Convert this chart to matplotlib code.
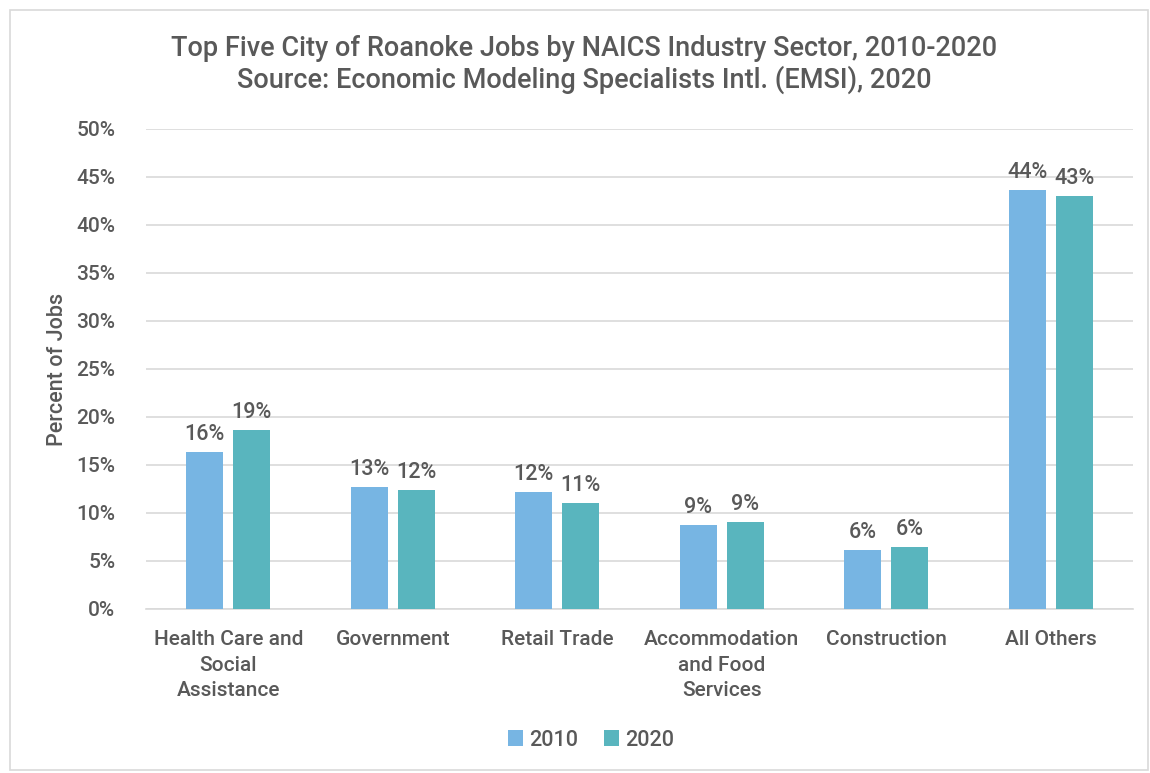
import matplotlib.pyplot as plt
from matplotlib.patches import Rectangle
from matplotlib.ticker import FuncFormatter, MultipleLocator
import numpy as np

plt.rcParams['font.family'] = ['Roboto', 'DejaVu Sans']
plt.rcParams['font.weight'] = 'medium'
plt.rcParams['axes.labelweight'] = 'medium'

CATEGORIES = ['Health Care and\nSocial\nAssistance', 'Government', 'Retail Trade',
              'Accommodation\nand Food\nServices', 'Construction', 'All Others']
JOBS_2010 = [16.35, 12.7, 12.2, 8.75, 6.15, 43.6]
JOBS_2020 = [18.65, 12.4, 11.0, 9.1, 6.45, 43.0]
LABELS_2010 = ['16%', '13%', '12%', '9%', '6%', '44%']
LABELS_2020 = ['19%', '12%', '11%', '9%', '6%', '43%']

C2010 = '#77B5E3'
C2020 = '#59B5BE'
TXT = '#595959'
GRID = '#D9D9D9'

fig = plt.figure(figsize=(11.5, 7.73), dpi=100)
ax = fig.add_axes([146 / 1150, 1 - 609 / 773, (1133 - 146) / 1150, (609 - 129) / 773])

# outer chart border
fig.patches.append(Rectangle((10 / 1150, 3 / 773), 1138 / 1150, 760 / 773,
                             transform=fig.transFigure, fill=False,
                             edgecolor='#D9D9D9', linewidth=1.2))

x = np.arange(len(CATEGORIES))
width = 0.225
off = 0.143
b1 = ax.bar(x - off, JOBS_2010, width, color=C2010, label='2010', zorder=3)
b2 = ax.bar(x + off, JOBS_2020, width, color=C2020, label='2020', zorder=3)
ax.bar_label(b1, labels=LABELS_2010, padding=5, color=TXT, fontsize=15.5)
ax.bar_label(b2, labels=LABELS_2020, padding=5, color=TXT, fontsize=15.5)

ax.set_xlim(-0.5, len(CATEGORIES) - 0.5)
ax.set_ylim(0, 50)
ax.yaxis.set_major_locator(MultipleLocator(5))
ax.yaxis.set_major_formatter(FuncFormatter(lambda v, p: '%d%%' % v))
ax.grid(axis='y', color=GRID, linewidth=1.2, zorder=0)
ax.set_xticks(x, CATEGORIES)
ax.tick_params(axis='both', length=0, labelsize=15, labelcolor=TXT)
ax.tick_params(axis='x', pad=15)
ax.tick_params(axis='y', pad=22)
for lbl in ax.get_xticklabels():
    lbl.set_linespacing(1.45)
for s in ['top', 'right', 'left']:
    ax.spines[s].set_visible(False)
ax.spines['bottom'].set_color(GRID)
ax.spines['bottom'].set_linewidth(1.2)

ax.set_ylabel('Percent of Jobs', fontsize=15.5, color=TXT, labelpad=6, fontweight='medium')

fig.text(0.508, 1 - 48 / 773, 'Top Five City of Roanoke Jobs by NAICS Industry Sector, 2010-2020',
         ha='center', va='center', fontsize=19.5, color=TXT)
fig.text(0.508, 1 - 80 / 773, 'Source: Economic Modeling Specialists Intl. (EMSI), 2020',
         ha='center', va='center', fontsize=19.5, color=TXT)

fig.legend(loc='center', bbox_to_anchor=(0.514, 1 - 740 / 773), ncols=2, frameon=False,
           fontsize=15.5, labelcolor=TXT, handlelength=0.7, handleheight=0.7,
           handletextpad=0.3, columnspacing=1.2)

plt.savefig('out.png', dpi=100, facecolor='white')
